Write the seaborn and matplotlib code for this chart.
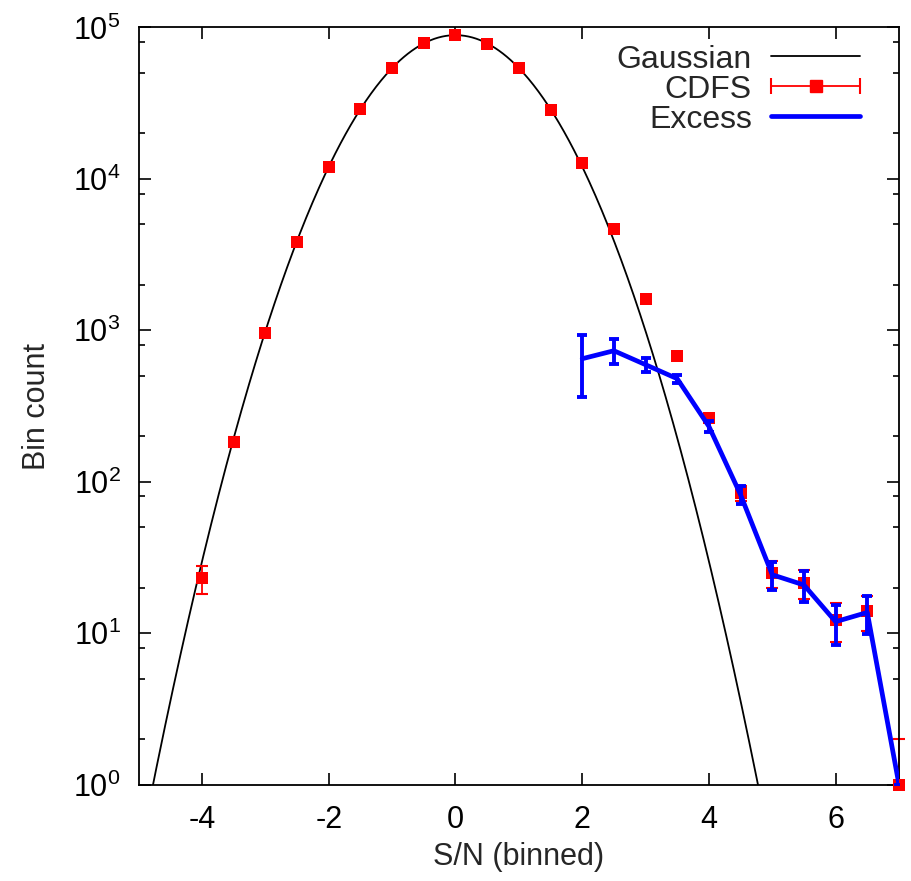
import numpy as np
import pandas as pd
import seaborn as sns
import matplotlib.pyplot as plt
from matplotlib.ticker import LogLocator, NullFormatter, FixedLocator, LogFormatterMathtext
from matplotlib.lines import Line2D
from matplotlib.legend_handler import HandlerLine2D, HandlerTuple

# CDFS binned counts (bin centres in S/N)
sn_cdfs = [-4.0, -3.5, -3.0, -2.5, -2.0, -1.5, -1.0, -0.5, 0.0, 0.5, 1.0, 1.5,
           2.0, 2.5, 3.0, 3.5, 4.0, 4.5, 5.0, 5.5, 6.0, 6.5, 7.0]
counts_cdfs = [23, 184, 964, 3850, 11900, 29000, 54000, 79000, 88600, 77400, 53600, 28400,
               12800, 4690, 1610, 672, 264, 84, 25, 21.4, 12.2, 14, 1]
err_cdfs_lo = [4.8, 13.6, 31, 62, 109, 170, 232, 281, 298, 278, 232, 169,
               113, 68, 40, 26, 16, 9.2, 5, 4.6, 3.5, 3.7, 0]
err_cdfs_hi = [4.8, 13.6, 31, 62, 109, 170, 232, 281, 298, 278, 232, 169,
               113, 68, 40, 26, 16, 9.2, 5, 4.6, 3.5, 3.7, 1]

# excess over the Gaussian
sn_excess = [2.0, 2.5, 3.0, 3.5, 4.0, 4.5, 5.0, 5.5, 6.0, 6.5, 7.0]
counts_excess = [649, 733, 593, 479, 232, 82, 24.3, 20.8, 11.9, 13.7, 1]
err_excess = [288, 137, 62, 30, 19, 11, 5, 4.8, 3.5, 3.8, 0]

# Gaussian model drawn through the histogram
gauss_amp = 89000
gauss_sigma = 1.0

x_ticks = [-4, -2, 0, 2, 4, 6]

sns.set_style('ticks')
plt.rcParams['font.family'] = ['Liberation Sans', 'DejaVu Sans']
plt.rcParams['mathtext.fontset'] = 'custom'
plt.rcParams['mathtext.rm'] = 'Liberation Sans'
plt.rcParams['mathtext.it'] = 'Liberation Sans'
plt.rcParams['mathtext.bf'] = 'Liberation Sans:bold'
plt.rcParams['axes.unicode_minus'] = False

fig = plt.figure(figsize=(9.12, 8.81), dpi=100)
ax = fig.add_axes([0.1521, 0.1095, 0.8336, 0.8593])

gx = np.linspace(-5, 7, 600)
gauss = pd.DataFrame({'sn': gx, 'n': gauss_amp * np.exp(-gx**2 / (2 * gauss_sigma**2))})
sns.lineplot(data=gauss, x='sn', y='n', color='black', lw=1.3, ax=ax, zorder=1)

ax.errorbar(sn_cdfs, counts_cdfs, yerr=[err_cdfs_lo, err_cdfs_hi], fmt='none',
            ecolor='red', elinewidth=1.3, capsize=4.2, capthick=1.5, zorder=2, clip_on=False)
sns.scatterplot(x=sn_cdfs, y=counts_cdfs, marker='s', s=64, color='red',
                linewidth=0, ax=ax, zorder=3, clip_on=False)

sns.lineplot(x=sn_excess, y=counts_excess, color='blue', lw=3.4, ax=ax, zorder=4)
ax.errorbar(sn_excess, counts_excess, yerr=err_excess, fmt='none', ecolor='blue',
            elinewidth=2.8, capsize=3.9, capthick=2.8, zorder=5)

ax.set_yscale('log')
ax.set_xlim(-5, 7)
ax.set_ylim(1, 1e5)
ax.xaxis.set_major_locator(FixedLocator(x_ticks))
ax.yaxis.set_major_locator(LogLocator(base=10, numticks=10))
ax.yaxis.set_major_formatter(LogFormatterMathtext())
ax.yaxis.set_minor_locator(LogLocator(base=10, subs=[2, 5, 8], numticks=10))
ax.yaxis.set_minor_formatter(NullFormatter())

for s in ax.spines.values():
    s.set_linewidth(1.3)
    s.set_color('black')
ax.tick_params(which='both', direction='in', top=True, right=True, width=1.2,
               colors='black', labelsize=22)
ax.tick_params(which='major', length=8.5)
ax.tick_params(which='minor', length=4.2)
ax.tick_params(axis='x', pad=15)
ax.tick_params(axis='y', pad=13)

ax.set_xlabel('S/N (binned)', fontsize=22, labelpad=5)
ax.set_ylabel('Bin count', fontsize=22, labelpad=15)

# legend: text on the left, gnuplot-like sample on the right
h_gauss = Line2D([], [], color='black', lw=1.3)
h_caps = Line2D([], [], color='red', lw=1.3, marker='|', markersize=11, mew=1.5)
h_sq = Line2D([], [], color='red', marker='s', ls='none', markersize=8)
h_exc = Line2D([], [], color='blue', lw=3.4)
ax.legend([h_gauss, (h_caps, h_sq), h_exc], ['Gaussian', 'CDFS', 'Excess'],
          handler_map={h_caps: HandlerLine2D(numpoints=2, marker_pad=0),
                       h_sq: HandlerLine2D(numpoints=1),
                       tuple: HandlerTuple(ndivide=1)},
          loc='upper right', bbox_to_anchor=(0.962, 0.99), borderaxespad=0,
          frameon=False, markerfirst=False, fontsize=23, handlelength=2.8,
          handletextpad=0.6, labelspacing=0.0, borderpad=0.3)

fig.savefig('out.png', dpi=100)
